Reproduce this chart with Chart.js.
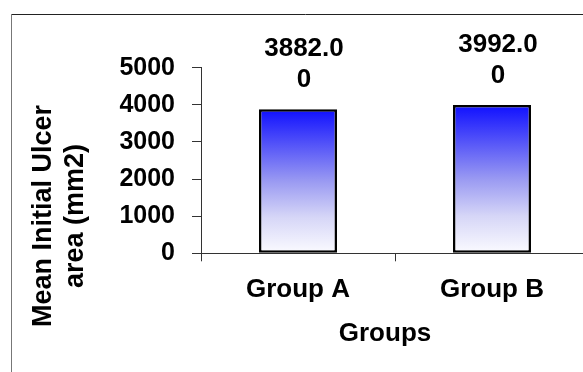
<!DOCTYPE html>
<html>
<head>
<meta charset="utf-8">
<script src="https://cdn.jsdelivr.net/npm/chart.js@4/dist/chart.umd.min.js"></script>
<style>
  html, body { margin: 0; padding: 0; background: #fff; overflow: hidden; }
  #wrap { position: relative; width: 600px; height: 372px; }
</style>
</head>
<body>
<div id="wrap"><canvas id="c" width="600" height="372"></canvas></div>
<script>
// Mean initial ulcer area per group
const categories = ['Group A', 'Group B'];
const meanArea = [3882.00, 3992.00];
const yTicks = [0, 1000, 2000, 3000, 4000, 5000];
const yTitleLines = ['Mean Initial Ulcer', 'area (mm2)'];
const xTitle = 'Groups';

const FONT = '"Liberation Sans", Arial, sans-serif';

// Vertical blue-to-white fill per bar, from its top down to the baseline
function barFill(ctx) {
  const chart = ctx.chart;
  const y = chart.scales.y;
  if (!chart.chartArea || !y || !ctx.parsed) return '#6666ff';
  const top = y.getPixelForValue(ctx.parsed.y);
  const base = y.getPixelForValue(0);
  if (!isFinite(top) || !isFinite(base)) return '#6666ff';
  const g = chart.ctx.createLinearGradient(0, top, 0, base);
  g.addColorStop(0, '#1010ff');
  g.addColorStop(0.25, '#5555f8');
  g.addColorStop(0.5, '#9a9af2');
  g.addColorStop(0.75, '#d6d6f7');
  g.addColorStop(1, '#fbfbff');
  return g;
}

// Outer frame, axis titles and value labels
const decorations = {
  id: 'decorations',
  beforeDraw(chart) {
    const c = chart.ctx;
    c.save();
    c.lineWidth = 1;
    c.strokeStyle = '#222';
    c.beginPath(); c.moveTo(11, 14.5); c.lineTo(chart.width, 14.5); c.stroke();
    c.strokeStyle = '#777';
    c.beginPath(); c.moveTo(11.5, 14); c.lineTo(11.5, chart.height); c.stroke();
    c.restore();
  },
  afterDatasetsDraw(chart) {
    const c = chart.ctx;
    c.save();
    c.fillStyle = '#000';
    c.textAlign = 'center';
    c.textBaseline = 'middle';

    // value labels, wrapped onto two lines
    c.font = 'bold 26px ' + FONT;
    const meta = chart.getDatasetMeta(0);
    meta.data.forEach((bar, i) => {
      const s = meanArea[i].toFixed(2);
      const lines = [s.slice(0, -1), s.slice(-1)];
      c.fillText(lines[0], bar.x + 6, bar.y - 60);
      c.fillText(lines[1], bar.x + 6, bar.y - 29);
    });

    // y axis title (two lines, rotated)
    c.font = 'bold 27px ' + FONT;
    const yMid = 216;
    [44, 76].forEach((x, i) => {
      c.save();
      c.translate(x, yMid);
      c.rotate(-Math.PI / 2);
      c.fillText(yTitleLines[i], 0, 0);
      c.restore();
    });

    // x axis title
    c.font = 'bold 26px ' + FONT;
    c.fillText(xTitle, 385, 334);
    c.restore();
  }
};

new Chart(document.getElementById('c'), {
  type: 'bar',
  data: {
    labels: categories,
    datasets: [{
      data: meanArea,
      backgroundColor: barFill,
      borderColor: '#000',
      borderWidth: 2.5,
      borderSkipped: false,
      categoryPercentage: 1,
      barPercentage: 0.402
    }]
  },
  options: {
    responsive: false,
    animation: false,
    devicePixelRatio: 1,
    layout: { padding: { left: 0, right: 11, top: 67.7, bottom: 0 } },
    plugins: { legend: { display: false }, tooltip: { enabled: false } },
    scales: {
      x: {
        grid: { display: true, drawOnChartArea: false, drawTicks: true, tickLength: 8, color: '#333', offset: true },
        border: { display: true, color: '#333', width: 1 },
        ticks: { color: '#000', font: { family: FONT, size: 26, weight: 'bold' }, padding: 13, maxRotation: 0 },
        afterFit(scale) { scale.height = 372 - 253.3; }
      },
      y: {
        min: 0, max: 5000,
        afterBuildTicks(scale) { scale.ticks = yTicks.map(v => ({ value: v })); },
        grid: { display: true, drawOnChartArea: false, drawTicks: true, tickLength: 9, color: '#333' },
        border: { display: true, color: '#333', width: 1 },
        ticks: {
          color: '#000', font: { family: FONT, size: 25, weight: 'bold' }, padding: 17,
          callback: v => String(v)
        },
        afterFit(scale) { scale.width = 201; }
      }
    }
  },
  plugins: [decorations]
});
</script>
</body>
</html>
